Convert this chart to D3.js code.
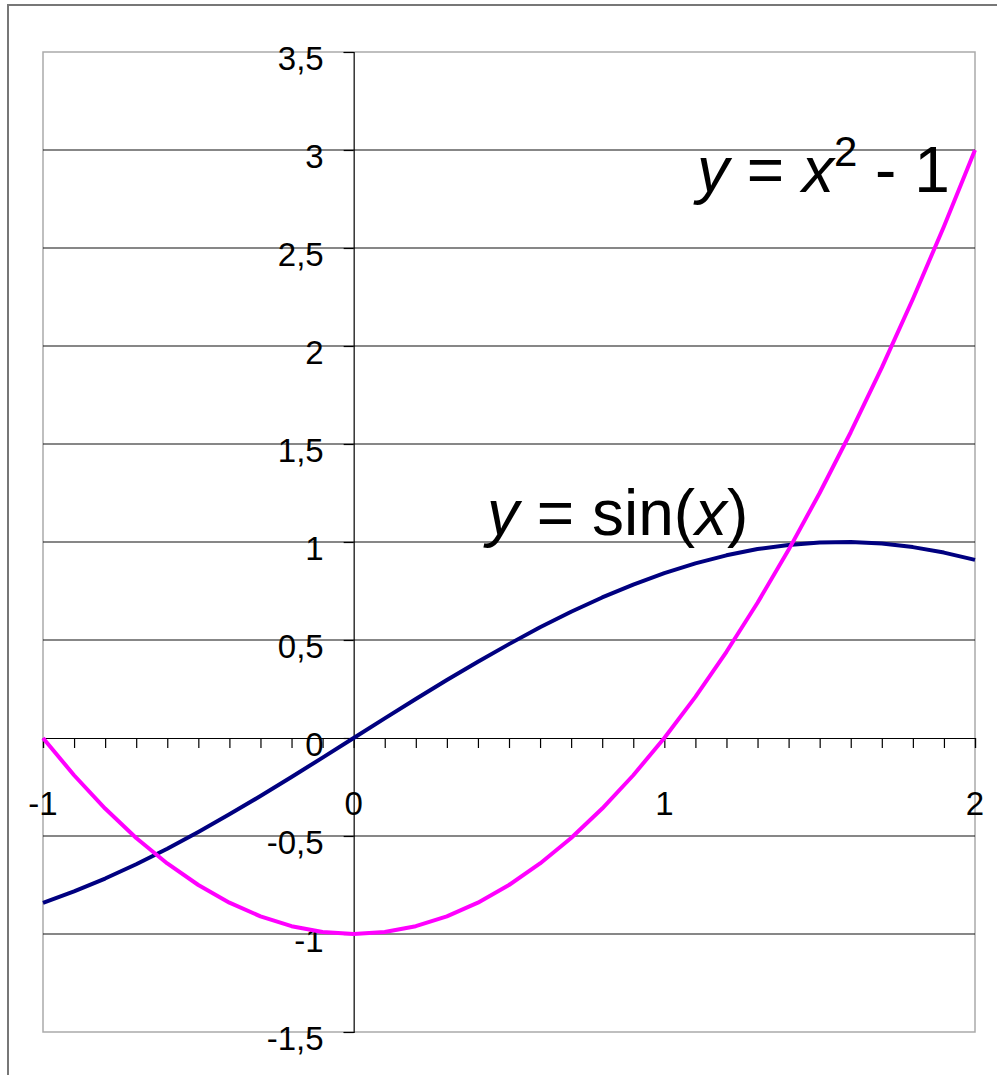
<!DOCTYPE html>
<html>
<head>
<meta charset="utf-8">
<script src="https://cdn.jsdelivr.net/npm/d3@7"></script>
<style>
  body { margin: 0; background: #fff; }
  svg text { font-family: "Liberation Sans", Arial, sans-serif; }
</style>
</head>
<body>
<div id="vis"></div>
<script>
// x values of the table, step 0.1
const xValues = [-1, -0.9, -0.8, -0.7, -0.6, -0.5, -0.4, -0.3, -0.2, -0.1, 0,
    0.1, 0.2, 0.3, 0.4, 0.5, 0.6, 0.7, 0.8, 0.9, 1,
    1.1, 1.2, 1.3, 1.4, 1.5, 1.6, 1.7, 1.8, 1.9, 2];
const sinValues = [-0.841, -0.783, -0.717, -0.644, -0.565, -0.479, -0.389, -0.296, -0.199, -0.100, 0,
    0.100, 0.199, 0.296, 0.389, 0.479, 0.565, 0.644, 0.717, 0.783, 0.841,
    0.891, 0.932, 0.964, 0.985, 0.997, 1.000, 0.992, 0.974, 0.946, 0.909];
const squareValues = [0, -0.19, -0.36, -0.51, -0.64, -0.75, -0.84, -0.91, -0.96, -0.99, -1,
    -0.99, -0.96, -0.91, -0.84, -0.75, -0.64, -0.51, -0.36, -0.19, 0,
    0.21, 0.44, 0.69, 0.96, 1.25, 1.56, 1.89, 2.24, 2.61, 3];
const yTicks = [-1.5, -1, -0.5, 0, 0.5, 1, 1.5, 2, 2.5, 3, 3.5];
const xLabels = [-1, 0, 1, 2];

const W = 997, H = 1075;
const plot = { left: 43, right: 975, top: 52, bottom: 1032 };

const svg = d3.select('#vis')
    .append('svg')
    .attr('width', W)
    .attr('height', H);

const xScale = d3.scaleLinear().domain([-1, 2]).range([plot.left, plot.right]);
const yScale = d3.scaleLinear().domain([-1.5, 3.5]).range([plot.bottom, plot.top]);

const fmt = v => String(v).replace('.', ',');

// outer frame (only top and left edges visible)
svg.append('path')
    .attr('d', `M8,${H} L8,5 L${W},5`)
    .attr('fill', 'none')
    .attr('stroke', '#777')
    .attr('stroke-width', 2);

// plot area border
svg.append('rect')
    .attr('x', plot.left)
    .attr('y', plot.top)
    .attr('width', plot.right - plot.left)
    .attr('height', plot.bottom - plot.top)
    .attr('fill', 'none')
    .attr('stroke', '#aaa')
    .attr('stroke-width', 1.5);

// horizontal gridlines
svg.selectAll('.grid')
    .data(yTicks.filter(d => d > -1.5 && d < 3.5 && d !== 0))
    .enter()
    .append('line')
    .attr('class', 'grid')
    .attr('x1', plot.left)
    .attr('x2', plot.right)
    .attr('y1', d => yScale(d))
    .attr('y2', d => yScale(d))
    .attr('stroke', '#111')
    .attr('stroke-width', 1.2);

// y axis at x = 0
const yAxis = d3.axisLeft(yScale)
    .tickValues(yTicks)
    .tickSize(10)
    .tickFormat('');
const yAxisG = svg.append('g')
    .attr('transform', `translate(${xScale(0)},0)`)
    .call(yAxis);
yAxisG.select('.domain').attr('stroke', '#000').attr('stroke-width', 1.2);
yAxisG.selectAll('.tick line').attr('stroke', '#000').attr('stroke-width', 1.2);

svg.selectAll('.ylabel')
    .data(yTicks)
    .enter()
    .append('text')
    .attr('class', 'ylabel')
    .attr('x', xScale(0) - 30)
    .attr('y', d => yScale(d) + 6)
    .attr('dy', '0.35em')
    .attr('text-anchor', 'end')
    .attr('font-size', 33)
    .text(d => fmt(d));

// x axis at y = 0 with minor ticks every 0.1
const xAxis = d3.axisBottom(xScale)
    .tickValues(xValues)
    .tickSize(10)
    .tickFormat('');
const xAxisG = svg.append('g')
    .attr('transform', `translate(0,${yScale(0)})`)
    .call(xAxis);
xAxisG.select('.domain').attr('stroke', '#000').attr('stroke-width', 1.2);
xAxisG.selectAll('.tick line').attr('stroke', '#000').attr('stroke-width', 1.2);

svg.selectAll('.xlabel')
    .data(xLabels)
    .enter()
    .append('text')
    .attr('class', 'xlabel')
    .attr('x', d => xScale(d))
    .attr('y', yScale(0) + 65)
    .attr('dy', '0.35em')
    .attr('text-anchor', 'middle')
    .attr('font-size', 33)
    .text(d => String(d));

// curves
const line = d3.line()
    .x((d, i) => xScale(xValues[i]))
    .y(d => yScale(d));

svg.append('path')
    .datum(sinValues)
    .attr('d', line)
    .attr('fill', 'none')
    .attr('stroke', '#000080')
    .attr('stroke-width', 4)
    .attr('stroke-linejoin', 'round');

svg.append('path')
    .datum(squareValues)
    .attr('d', line)
    .attr('fill', 'none')
    .attr('stroke', '#ff00ff')
    .attr('stroke-width', 4)
    .attr('stroke-linejoin', 'round');

// annotations
const lab1 = svg.append('text')
    .attr('x', 697)
    .attr('y', 192)
    .attr('font-size', 64);
lab1.append('tspan').attr('font-style', 'italic').text('y');
lab1.append('tspan').text(' = ');
lab1.append('tspan').attr('font-style', 'italic').text('x');
lab1.append('tspan').attr('font-size', 42).attr('dy', -26).text('2');
lab1.append('tspan').attr('dy', 26).text(' - 1');

const lab2 = svg.append('text')
    .attr('x', 487)
    .attr('y', 535)
    .attr('font-size', 64);
lab2.append('tspan').attr('font-style', 'italic').text('y');
lab2.append('tspan').text(' = sin(');
lab2.append('tspan').attr('font-style', 'italic').text('x');
lab2.append('tspan').text(')');
</script>
</body>
</html>
